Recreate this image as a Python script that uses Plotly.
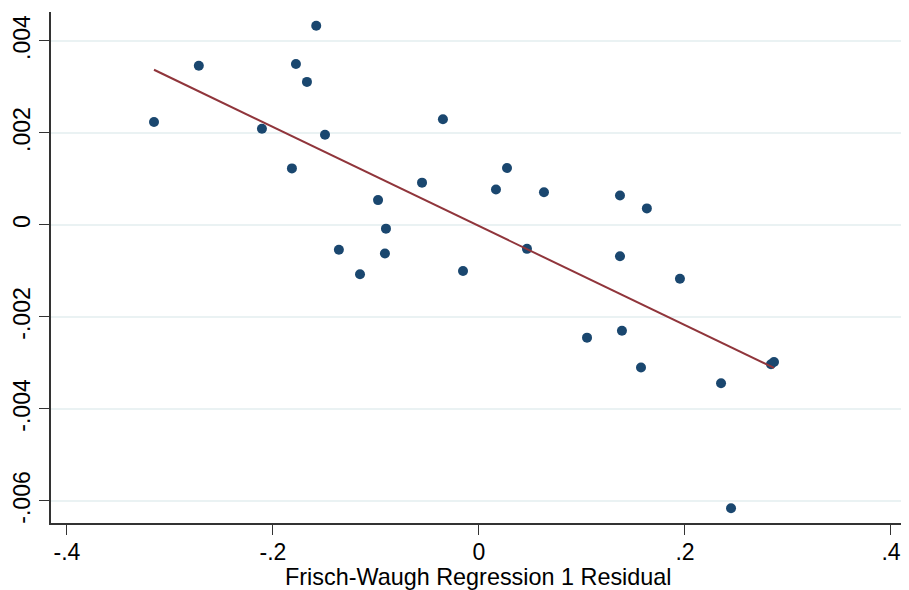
import numpy as np
import plotly.graph_objects as go

# Data
resid_x = [-0.3155, -0.272, -0.2107, -0.1816, -0.1777, -0.167, -0.158, -0.1495,
           -0.136, -0.1155, -0.098, -0.0903, -0.0913, -0.0553, -0.035, -0.0155,
           0.0165, 0.0272, 0.0466, 0.0631, 0.1049, 0.1369, 0.1369, 0.1388,
           0.1573, 0.163, 0.1951, 0.235, 0.2447, 0.2835, 0.2864]
resid_y = [0.00224, 0.00346, 0.00209, 0.00123, 0.0035, 0.00311, 0.00433, 0.00196,
           -0.00054, -0.00107, 0.00054, -0.00008, -0.00062, 0.00092, 0.0023, -0.001,
           0.00077, 0.00124, -0.00052, 0.00071, -0.00245, 0.00064, -0.00068, -0.00230,
           -0.00310, 0.00036, -0.00117, -0.00344, -0.00616, -0.00303, -0.00298]

# fitted line
fit_slope = -0.01077
fit_intercept = -0.000024

x_ticks = [-0.4, -0.2, 0, 0.2, 0.4]
x_ticklabels = ["-.4", "-.2", "0", ".2", ".4"]
y_ticks = [-0.006, -0.004, -0.002, 0, 0.002, 0.004]
y_ticklabels = ["-.006", "-.004", "-.002", "0", ".002", ".004"]
x_title = "Frisch-Waugh Regression 1 Residual"

fit_x = np.array([min(resid_x), max(resid_x)])
fit_y = fit_slope * fit_x + fit_intercept

fig = go.Figure()
fig.add_trace(go.Scatter(
    x=resid_x, y=resid_y, mode="markers",
    marker=dict(color="#1a476f", size=10, line=dict(width=0)),
    showlegend=False, cliponaxis=False))
fig.add_trace(go.Scatter(
    x=fit_x, y=fit_y, mode="lines",
    line=dict(color="#90353b", width=2),
    showlegend=False))

font_family = "Liberation Sans, Arial, sans-serif"
# page body has an 8px margin, so the figure is sized/offset to compensate
fig.update_layout(
    width=901, height=582,
    margin=dict(l=43, r=4, t=4, b=67, autoexpand=False),
    paper_bgcolor="white", plot_bgcolor="white",
    font=dict(family=font_family, size=23, color="black"),
    xaxis=dict(
        range=[-0.4155, 0.4136], tickvals=x_ticks, ticktext=x_ticklabels,
        automargin=False,
        showgrid=False, zeroline=False, showline=True, linecolor="#333333",
        linewidth=1.5, ticks="outside", ticklen=10, tickcolor="#333333",
        tickfont=dict(size=23), ticklabelstandoff=-2,
    ),
    yaxis=dict(
        range=[-0.00648, 0.00463], tickvals=y_ticks, ticktext=y_ticklabels,
        automargin=False,
        showgrid=True, gridcolor="#eaf2f3", gridwidth=1.5, zeroline=False,
        showline=True, linecolor="#333333", linewidth=1.5,
        ticks="outside", ticklen=10, tickcolor="#333333",
        tickangle=-90, tickfont=dict(size=23),
    ),
    annotations=[dict(
        text=x_title, xref="paper", yref="paper", x=0.5, y=-0.105,
        xanchor="center", yanchor="middle", showarrow=False,
        font=dict(size=23.4, family=font_family, color="black"))],
)
fig.write_html("out.html")
